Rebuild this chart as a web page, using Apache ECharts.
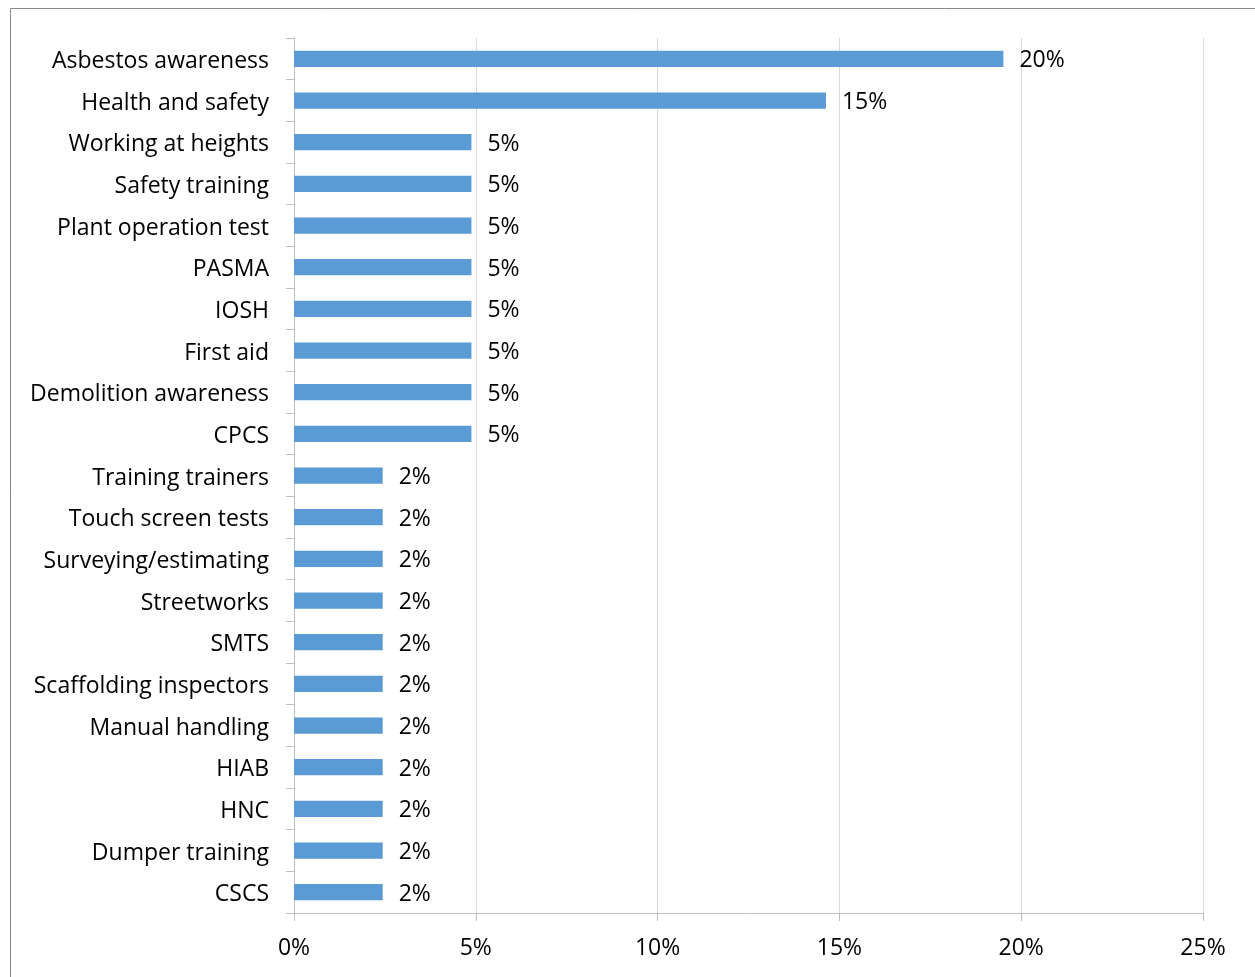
<!DOCTYPE html>
<html>
<head>
<meta charset="utf-8">
<script src="https://cdn.jsdelivr.net/npm/echarts@6/dist/echarts.min.js"></script>
<style>
  html, body { margin: 0; padding: 0; background: #fff; }
  #chart { width: 1255px; height: 977px; }
</style>
</head>
<body>
<div id="chart"></div>
<script>
  // training courses, top to bottom as shown
  var courses = ['Asbestos awareness', 'Health and safety', 'Working at heights', 'Safety training',
    'Plant operation test', 'PASMA', 'IOSH', 'First aid', 'Demolition awareness', 'CPCS',
    'Training trainers', 'Touch screen tests', 'Surveying/estimating', 'Streetworks', 'SMTS',
    'Scaffolding inspectors', 'Manual handling', 'HIAB', 'HNC', 'Dumper training', 'CSCS']
  // share of respondents (%)
  var shares = [19.51, 14.63, 4.88, 4.88, 4.88, 4.88, 4.88, 4.88, 4.88, 4.88,
    2.44, 2.44, 2.44, 2.44, 2.44, 2.44, 2.44, 2.44, 2.44, 2.44, 2.44]
  var axisMax = 25
  var axisStep = 5

  var font = 'Open Sans'
  var chart = echarts.init(document.getElementById('chart'))
  chart.setOption({
    animation: false,
    graphic: [{
      type: 'rect',
      shape: { x: 10.5, y: 8.5, width: 1300, height: 1000 },
      style: { fill: 'none', stroke: '#898989', lineWidth: 1 },
      silent: true
    }],
    grid: { left: 294, right: 52, top: 38, bottom: 64 },
    xAxis: {
      type: 'value',
      min: 0,
      max: axisMax,
      interval: axisStep,
      axisLine: { show: true, lineStyle: { color: '#bfbfbf' } },
      axisTick: { show: true, length: 8, lineStyle: { color: '#bfbfbf' } },
      axisLabel: { formatter: '{value}%', color: '#000', fontFamily: font, fontSize: 23, margin: 24 },
      splitLine: { lineStyle: { color: '#d9d9d9' } }
    },
    yAxis: {
      type: 'category',
      inverse: true,
      data: courses,
      axisLine: { show: true, lineStyle: { color: '#bfbfbf' } },
      axisTick: { show: true, length: 8, lineStyle: { color: '#bfbfbf' } },
      axisLabel: {
        margin: 25,
        formatter: function (v) { return '{c|' + v + '}' },
        rich: { c: { color: '#000', fontFamily: font, fontSize: 23, padding: [5, 0, 0, 0] } }
      }
    },
    series: [{
      type: 'bar',
      data: shares,
      barCategoryGap: '61%',
      itemStyle: { color: '#5b9bd5' },
      label: {
        show: true,
        position: 'right',
        distance: 16,
        offset: [0, 2],
        color: '#000',
        fontFamily: font,
        fontSize: 23,
        formatter: function (p) { return Math.round(p.value) + '%' }
      }
    }]
  })
</script>
</body>
</html>
